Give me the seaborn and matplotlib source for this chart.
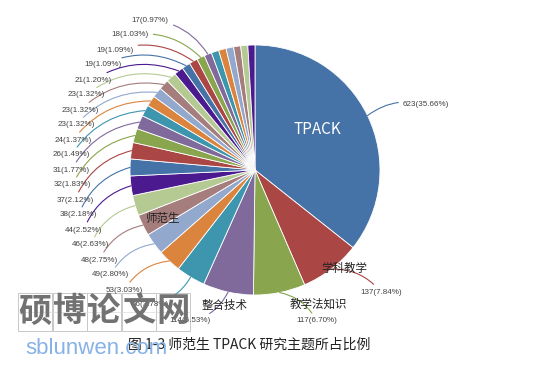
import numpy as np
import matplotlib
matplotlib.use("Agg")
import matplotlib.pyplot as plt
from matplotlib.patches import Rectangle
import seaborn as sns

# research topics of TPACK studies (counts), sorted as in the source chart
counts = [623, 137, 117, 114, 66, 53, 49, 48, 46, 44, 38, 37, 32, 31, 26, 24,
          23, 23, 23, 21, 19, 19, 18, 17, 17, 17, 17, 16, 16, 16]
names = {0: "TPACK", 1: "学科教学", 2: "教学法知识", 3: "整合技术", 7: "师范生"}
palette = ["#4572A7", "#AA4643", "#89A54E", "#80699B", "#3D96AE",
           "#DB843D", "#92A8CD", "#A47D7C", "#B5CA92", "#4B1A8F"]
n_labeled = 24
caption = "图 1-3 师范生 TPACK 研究主题所占比例"

W, H = 544, 365
total = sum(counts)
colors = [palette[i % len(palette)] for i in range(len(counts))]

sns.set_theme(style="white")
plt.rcParams["font.family"] = ["Noto Sans CJK SC", "DejaVu Sans"]

fig = plt.figure(figsize=(W / 100, H / 100), dpi=100)
ax = fig.add_axes([0, 0, 1, 1])

def P(x, y):
    return (x, H - y)

cx, cy = 255, 170
R = 125
wedges, _ = ax.pie(counts, colors=colors, startangle=90, counterclock=False,
                   center=P(cx, cy), radius=R,
                   wedgeprops=dict(edgecolor="white", linewidth=0.6))
ax.set_xlim(0, W)
ax.set_ylim(0, H)
ax.set_aspect("equal")
ax.axis("off")

def edge_point(w, r=1.0):
    a = np.deg2rad((w.theta1 + w.theta2) / 2)
    return (cx + r * R * np.cos(a), H - cy + r * R * np.sin(a))

def label(i):
    return f"{counts[i]}({counts[i] / total * 100:.2f}%)"

lab_kw = dict(fontsize=5.8, color="#404040", va="center",
              family=["Liberation Sans", "DejaVu Sans"])

# labels on the right / bottom
special = {0: (403, 105, "left"), 1: (360, 292, "left"), 2: (296, 321, "left"),
           3: (211, 321, "right"), 4: (169, 304, "right")}
for i, (x, y, ha) in special.items():
    ax.annotate(label(i), xy=edge_point(wedges[i]), xytext=P(x, y), ha=ha, **lab_kw,
                arrowprops=dict(arrowstyle="-", color=colors[i], lw=0.8,
                                shrinkA=1, shrinkB=0,
                                connectionstyle="arc3,rad=0.25"))

# stacked labels on the left
left_idx = list(range(5, n_labeled))
ys = np.linspace(290, 20, len(left_idx))
for i, y in zip(left_idx, ys):
    dy = (y - 165) / 170
    x = cx - 165 * np.sqrt(max(0.0, 1 - dy ** 2))
    ax.annotate(label(i), xy=edge_point(wedges[i]), xytext=P(x, y), ha="right", **lab_kw,
                arrowprops=dict(arrowstyle="-", color=colors[i], lw=0.8,
                                shrinkA=1, shrinkB=0,
                                connectionstyle="arc3,rad=-0.25"))

# category names
name_pos = {0: (317, 130), 1: (344, 268), 2: (318, 304), 3: (225, 305), 7: (163, 218)}
for i, txt in names.items():
    x, y = name_pos[i]
    ax.text(*P(x, y), txt, ha="center", va="center",
            fontsize=11 if i == 0 else 8.3,
            color="white" if i == 0 else "#222222")

# caption
ax.text(*P(128, 345), caption, ha="left", va="center", fontsize=10, color="#222222")

# watermark
for k, ch in enumerate("硕博论文网"):
    x0 = 18 + k * 34.5
    ax.add_patch(Rectangle(P(x0, 331), 34, 38, fill=False, ec="#c8c8c8", lw=0.7))
    ax.plot([x0, x0 + 34], [H - 312, H - 312], color="#dddddd", lw=0.5)
    ax.text(*P(x0 + 17, 312), ch, ha="center", va="center", fontsize=24,
            fontweight="bold", color="#727272")
ax.text(*P(25, 348), "sblunwen.com", ha="left", va="center", fontsize=16,
        family=["Liberation Sans", "DejaVu Sans"], color="#86b2e6")

fig.savefig("out.png", dpi=100)
